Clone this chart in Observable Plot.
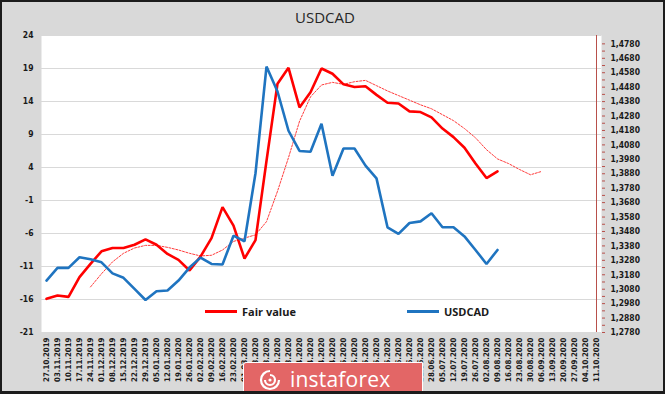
<!DOCTYPE html>
<html>
<head>
<meta charset="utf-8">
<script src="https://cdn.jsdelivr.net/npm/d3@7"></script>
<script src="https://cdn.jsdelivr.net/npm/@observablehq/plot@0.6"></script>
<style>
  html, body { margin: 0; padding: 0; background: #fff; }
  #wrap { position: relative; width: 665px; height: 394px; background: #d9d9d9; overflow: hidden; }
  #wrap svg { position: absolute; left: 0; top: 0; }
  #wrap svg text { font-stretch: condensed; }
  #title { position: absolute; left: 0; width: 650px; top: 7px; text-align: center;
           font-family: "Open Sans", sans-serif; font-size: 15px; color: #262626; }
  .leg { position: absolute; top: 304px; font-family: "Open Sans", sans-serif; font-weight: bold;
         font-size: 11px; color: #1a1a1a; display: flex; align-items: center; }
  .leg span.sw { display: inline-block; width: 32px; height: 2.5px; margin-right: 5px; }
  #logo { position: absolute; left: 243px; top: 362px; width: 178px; height: 34px;
          background: #e36666; border: 1px solid #fff; border-radius: 3px 0 0 0; }
  #logo .txt { position: absolute; left: 46px; top: 2px; font-family: "Open Sans", sans-serif;
               font-size: 21px; color: #fff; letter-spacing: 0.2px; }
  #logo svg { position: absolute; left: 13px; top: 5px; }
  #border { position: absolute; left: 0; top: 0; width: 665px; height: 394px; box-sizing: border-box;
            border: 2px solid #1c1c1c; border-bottom-width: 3px; pointer-events: none; }
</style>
</head>
<body>
<div id="wrap">
  <div id="chart"></div>
  <div id="title">USDCAD</div>
  <div class="leg" style="left:205px"><span class="sw" style="background:#ff0000"></span>Fair value</div>
  <div class="leg" style="left:407px"><span class="sw" style="background:#1f74c0"></span>USDCAD</div>
  <div id="logo">
    <svg width="26" height="24" viewBox="0 0 26 24">
      <path d="M13 3 A9 9 0 1 0 22 12" fill="none" stroke="#fff" stroke-width="2.2"/>
      <path d="M13 7 A5 5 0 1 1 8 12" fill="none" stroke="#fff" stroke-width="2.2"/>
      <circle cx="13" cy="12" r="1.6" fill="#fff"/>
    </svg>
    <div class="txt">instaforex</div>
  </div>
  <div id="border"></div>
</div>
<script>
const dates = ["27.10.2019","03.11.2019","10.11.2019","17.11.2019","24.11.2019","01.12.2019","08.12.2019","15.12.2019","22.12.2019","29.12.2019",
"05.01.2020","12.01.2020","19.01.2020","26.01.2020","02.02.2020","09.02.2020","16.02.2020","23.02.2020","01.03.2020","08.03.2020",
"15.03.2020","22.03.2020","29.03.2020","05.04.2020","12.04.2020","19.04.2020","26.04.2020","03.05.2020","10.05.2020","17.05.2020",
"24.05.2020","31.05.2020","07.06.2020","14.06.2020","21.06.2020","28.06.2020","05.07.2020","12.07.2020","19.07.2020","26.07.2020",
"02.08.2020","09.08.2020","16.08.2020","23.08.2020","30.08.2020","06.09.2020","13.09.2020","20.09.2020","27.09.2020","04.10.2020","11.10.2020"];

// Fair value (left axis), from 27.10.2019
const fairValue = [-15.9,-15.4,-15.6,-12.6,-10.6,-8.7,-8.2,-8.2,-7.7,-6.9,
  -7.7,-9.1,-10.0,-11.6,-9.5,-6.7,-2.0,-4.8,-9.8,-7.0,
  5.0,16.7,19.1,13.1,15.4,19.0,18.2,16.6,16.2,16.3,
  15.0,13.8,13.7,12.5,12.4,11.6,9.9,8.6,7.0,4.6,
  2.4,3.4];

// Fair value trend (dotted, left axis), starts at 24.11.2019
const trendStart = 4;
const fairTrend = [-14.1,-12.1,-10.3,-9.0,-8.2,-7.8,-7.8,-8.1,-8.5,-9.0,
  -9.4,-9.3,-8.5,-7.2,-6.7,-6.2,-4.2,0.4,5.5,11.0,
  14.7,16.5,16.9,16.6,17.0,17.2,16.4,15.6,14.9,14.2,
  13.5,12.9,12.0,11.1,9.9,8.5,6.7,5.3,4.6,3.7,
  2.9,3.4];

// USDCAD (right axis), from 27.10.2019
const usdcad = [1.3140,1.3228,1.3228,1.3301,1.3287,1.3266,1.3190,1.3159,1.3082,1.3005,
  1.3066,1.3071,1.3140,1.3230,1.3299,1.3255,1.3251,1.3451,1.3412,1.3884,
  1.4623,1.4450,1.4178,1.4038,1.4033,1.4227,1.3866,1.4055,1.4055,1.3936,
  1.3848,1.3509,1.3463,1.3539,1.3550,1.3606,1.3509,1.3509,1.3446,1.3352,
  1.3255,1.3352];

const leftTicks = [-21,-16,-11,-6,-1,4,9,14,19,24];
const rightTicks = d3.range(0, 21).map(k => +(1.278 + k * 0.01).toFixed(4));
const rightMinor = d3.range(0, 20).map(k => +(1.283 + k * 0.01).toFixed(4));

const leftMin = -21, leftMax = 24;
const rightMin = 1.278, rightMax = 1.4838;
const toLeft = v => leftMin + (v - rightMin) / (rightMax - rightMin) * (leftMax - leftMin);
const fromLeft = d => rightMin + (d - leftMin) / (leftMax - leftMin) * (rightMax - rightMin);
const fmtRight = d => fromLeft(d).toFixed(4).replace(".", ",");

const axisColor = "#b8504b";
const font = '"DejaVu Sans Condensed", "DejaVu Sans", sans-serif';

const chart = Plot.plot({
  width: 665, height: 394,
  marginLeft: 41, marginRight: 64, marginTop: 35, marginBottom: 62,
  style: { background: "transparent", fontFamily: font, fontSize: "8.5px", fontWeight: "bold", color: "#1a1a1a" },
  x: { type: "point", domain: dates, padding: 0, label: null },
  y: { domain: [leftMin, leftMax], label: null },
  marks: [
    Plot.frame({ fill: "white", stroke: null }),
    Plot.ruleY(leftTicks, { stroke: "#d9d9d9", strokeWidth: 1.2 }),
    Plot.axisY({ anchor: "left", ticks: leftTicks, tickSize: 0, tickPadding: 8, label: null, tickFormat: d => String(d) }),
    Plot.axisX({ anchor: "bottom", tickRotate: -90, tickSize: 0, tickPadding: 5, label: null, fontSize: 7.8 }),
    Plot.ruleX([dates[dates.length - 1]], { y1: leftMin, y2: leftMax, stroke: axisColor, strokeWidth: 1 }),
    Plot.axisY({ anchor: "right", ticks: rightMinor.map(toLeft), tickSize: 3, tickFormat: () => "", label: null, stroke: axisColor }),
    Plot.axisY({ anchor: "right", ticks: rightTicks.map(toLeft), tickSize: 3, tickPadding: 6, tickFormat: fmtRight, label: null, stroke: axisColor }),
    Plot.line(fairTrend, { x: (d, i) => dates[i + trendStart], y: d => d, stroke: "#ff3b3b", strokeWidth: 1, strokeDasharray: "2,1.5" }),
    Plot.line(fairValue, { x: (d, i) => dates[i], y: d => d, stroke: "#ff0000", strokeWidth: 2.6, strokeLinejoin: "miter" }),
    Plot.line(usdcad, { x: (d, i) => dates[i], y: d => toLeft(d), stroke: "#1f74c0", strokeWidth: 2.6, strokeLinejoin: "miter" })
  ]
});
document.getElementById("chart").appendChild(chart);
</script>
</body>
</html>
